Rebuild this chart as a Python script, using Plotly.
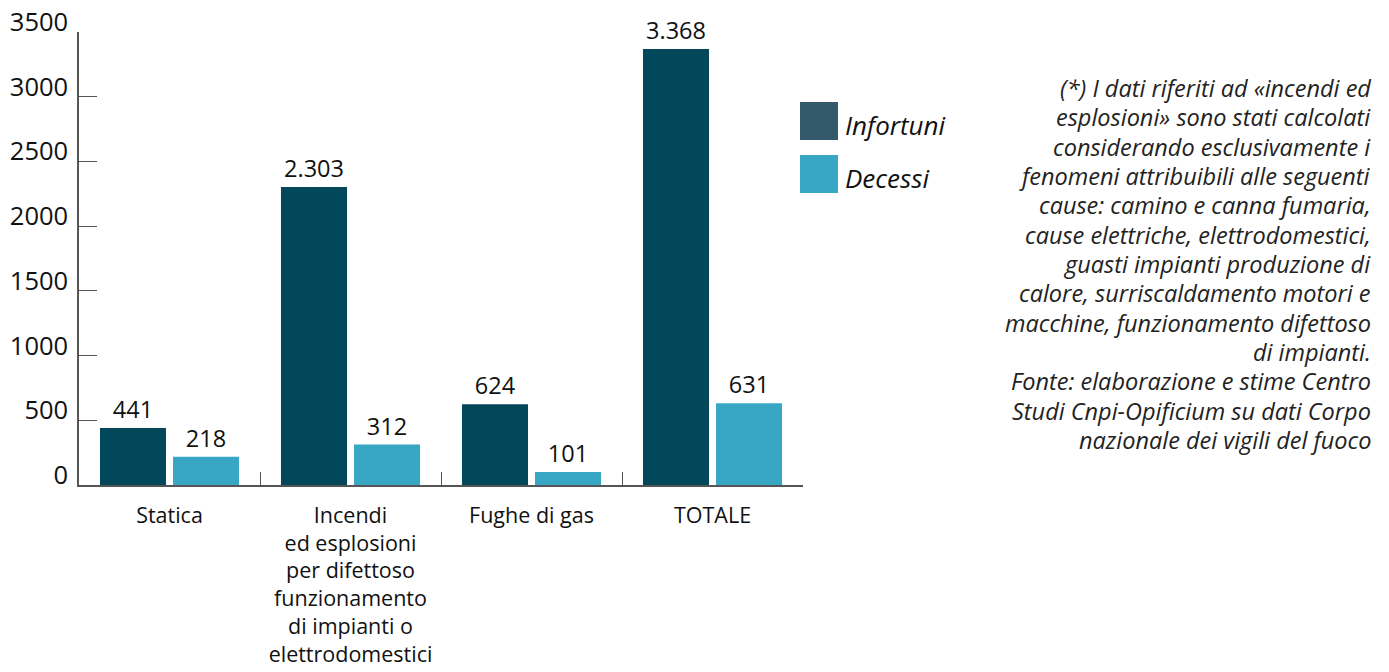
import plotly.graph_objects as go

# Categories and values
categories = [
    "Statica",
    "Incendi<br>ed esplosioni<br>per difettoso<br>funzionamento<br>di impianti o<br>elettrodomestici",
    "Fughe di gas",
    "TOTALE",
]
infortuni = [441, 2303, 624, 3368]
decessi = [218, 312, 101, 631]
series_names = ["Infortuni", "Decessi"]
y_ticks = [0, 500, 1000, 1500, 2000, 2500, 3000, 3500]

note_lines = [
    "(*) I dati riferiti ad «incendi ed",
    "esplosioni» sono stati calcolati",
    "considerando esclusivamente i",
    "fenomeni attribuibili alle seguenti",
    "cause: camino e canna fumaria,",
    "cause elettriche, elettrodomestici,",
    "guasti impianti produzione di",
    "calore, surriscaldamento motori e",
    "macchine, funzionamento difettoso",
    "di impianti.",
    "Fonte: elaborazione e stime Centro",
    "Studi Cnpi-Opificium su dati Corpo",
    "nazionale dei vigili del fuoco",
]

DARK = "#03475a"
LIGHT = "#38a7c5"
LEGEND_DARK = "#325a6b"
FONT = "Open Sans"

W, H = 1389, 672
ML, MR, MT, MB = 79, 586, 32, 187
PW = W - ML - MR
PH = H - MT - MB


def px_x(px):
    return (px - ML) / PW


def px_y(py):
    return (H - MB - py) / PH


fig = go.Figure()
for name, vals, col in [(series_names[0], infortuni, DARK), (series_names[1], decessi, LIGHT)]:
    fig.add_trace(go.Bar(
        x=categories, y=vals, name=name,
        marker=dict(color=col, line=dict(width=0)),
        texttemplate="%{y:,}", textposition="outside",
        textfont=dict(family=FONT, size=23.5, color="#111"),
        constraintext="none", cliponaxis=False, showlegend=False,
    ))

fig.update_layout(
    width=W, height=H,
    margin=dict(l=ML, r=MR, t=MT, b=MB, autoexpand=False),
    paper_bgcolor="white", plot_bgcolor="white",
    barmode="group", bargap=0.193, bargroupgap=0.096,
    separators=",.",
    font=dict(family=FONT, color="#111"),
)

fig.update_xaxes(
    range=[-0.5, 3.5], showline=True, linecolor="#555", linewidth=1.5,
    ticks="inside", tickson="boundaries", ticklen=13, tickcolor="#555", tickwidth=1.2,
    tickfont=dict(family=FONT, size=21.5, color="#111"),
    ticklabelstandoff=10, showgrid=False, zeroline=False,
)
fig.update_yaxes(
    range=[0, 3500], tickvals=y_ticks, showline=True, linecolor="#555", linewidth=1.5,
    ticks="inside", ticklen=18, tickcolor="#555", tickwidth=1.2,
    tickfont=dict(family=FONT, size=25.5, color="#111"),
    ticklabelshift=-10, ticklabelstandoff=4, showgrid=False, zeroline=False,
)

# Legend drawn as swatches plus italic labels
legend_items = [(series_names[0], LEGEND_DARK, 102), (series_names[1], LIGHT, 155)]
for name, col, top in legend_items:
    fig.add_shape(type="rect", xref="paper", yref="paper",
                  x0=px_x(800), x1=px_x(838), y0=px_y(top + 38), y1=px_y(top),
                  fillcolor=col, line=dict(width=0))
    fig.add_annotation(xref="paper", yref="paper", x=px_x(843), y=px_y(top + 23),
                       text=f"<i>{name}</i>", showarrow=False, xanchor="left", yanchor="middle",
                       font=dict(family=FONT, size=26, color="#111"))

# Footnote, right aligned
for i, line in enumerate(note_lines):
    fig.add_annotation(xref="paper", yref="paper", x=px_x(1373), y=px_y(88 + i * 29.33),
                       text=f"<i>{line}</i>", showarrow=False, xanchor="right", yanchor="middle",
                       font=dict(family=FONT, size=23.5, color="#222"))

fig.write_html("out.html")
